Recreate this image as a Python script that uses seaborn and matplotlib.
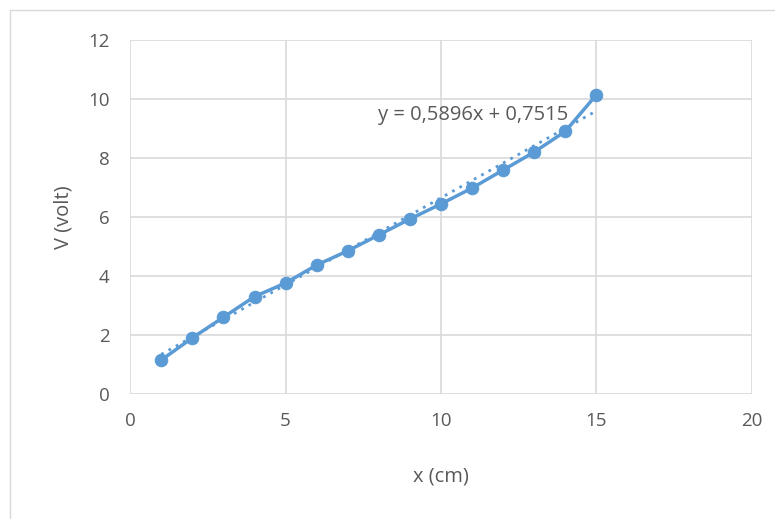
import numpy as np
import pandas as pd
import seaborn as sns
import matplotlib.pyplot as plt
from matplotlib.patches import Rectangle

# measured values
x_cm = [1, 2, 3, 4, 5, 6, 7, 8, 9, 10, 11, 12, 13, 14, 15]
v_volt = [1.15, 1.9, 2.6, 3.3, 3.76, 4.37, 4.85, 5.39, 5.93, 6.44, 6.98, 7.59, 8.2, 8.9, 10.14]
slope = 0.5896
intercept = 0.7515
x_ticks = [0, 5, 10, 15, 20]
y_ticks = [0, 2, 4, 6, 8, 10, 12]

blue = '#5B9BD5'
grey = '#595959'

sns.set_theme(style='white')
plt.rcParams['font.family'] = ['Open Sans', 'DejaVu Sans']

data = pd.DataFrame({'x': x_cm, 'V': v_volt})
trend_x = np.array([x_cm[0], x_cm[-1]])
trend = pd.DataFrame({'x': trend_x, 'V': slope * trend_x + intercept})

fig = plt.figure(figsize=(7.75, 5.19), dpi=100)
ax = fig.add_axes([0.168, 0.241, 0.802, 0.682])

sns.lineplot(data=trend, x='x', y='V', ax=ax, color=blue, lw=2, linestyle=(0, (1, 2)))
sns.lineplot(data=data, x='x', y='V', ax=ax, color=blue, lw=2.5, marker='o',
             markersize=9, markeredgecolor=blue)

ax.set_xlim(0, 20)
ax.set_ylim(0, 12)
ax.set_xticks(x_ticks)
ax.set_yticks(y_ticks)
ax.grid(True, color='#d9d9d9', lw=1.2)
ax.set_axisbelow(True)
for s in ax.spines.values():
    s.set_visible(False)
ax.tick_params(axis='both', length=0, labelsize=13.5, colors=grey)
ax.tick_params(axis='x', pad=13)
ax.tick_params(axis='y', pad=15)
ax.set_xlabel('x (cm)', fontsize=14.5, color=grey, labelpad=26)
ax.set_ylabel('V (volt)', fontsize=14.5, color=grey, labelpad=10)

ax.text(14.1, 9.46, f'y = {slope:.4f}x + {intercept:.4f}'.replace('.', ','),
        ha='right', va='center', fontsize=14.5, color=grey)

# chart frame
fig.patches.append(Rectangle((0.013, -0.1), 1.2, 1.08, transform=fig.transFigure,
                             fill=False, edgecolor='#d9d9d9', lw=1))

fig.savefig('out.png', dpi=100)
